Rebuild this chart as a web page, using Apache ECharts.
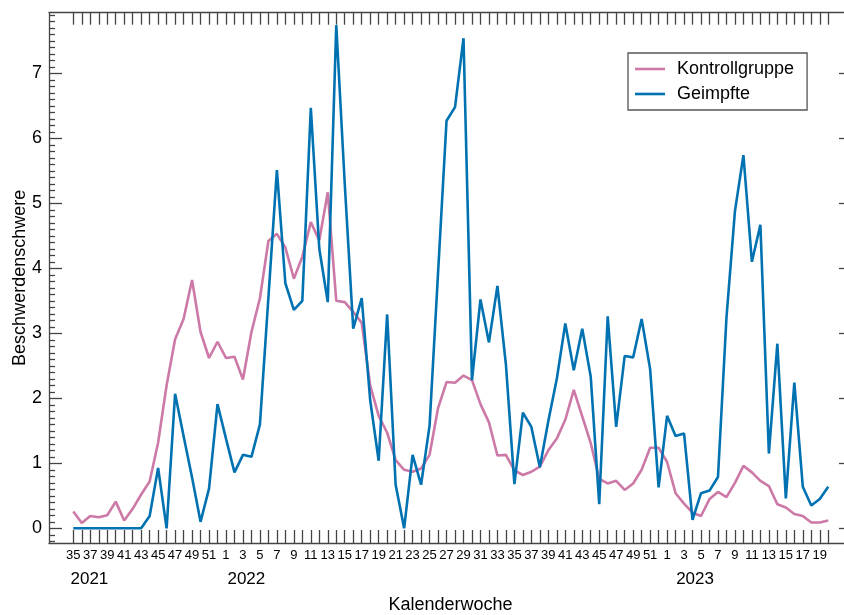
<!DOCTYPE html>
<html>
<head>
<meta charset="utf-8">
<script src="https://cdn.jsdelivr.net/npm/echarts@6/dist/echarts.min.js"></script>
<style>
  html, body { margin: 0; padding: 0; background: #fff; }
  #chart { width: 844px; height: 615px; }
</style>
</head>
<body>
<div id="chart"></div>
<script>
// Calendar weeks: 2021 W35 .. 2022 W52 .. 2023 W20
function range(a, b) { const r = []; for (let k = a; k <= b; k++) r.push(k); return r; }
const weeks2021 = range(35, 52);
const weeks2022 = range(1, 52);
const weeks2023 = range(1, 20);
const weeks = weeks2021.concat(weeks2022, weeks2023);

const years = ['2021', '2022', '2023'];
const yTickValues = [0, 1, 2, 3, 4, 5, 6, 7];

// Weekly complaint severity
const kontrollgruppe = [
  0.26, 0.08, 0.19, 0.17, 0.20, 0.41, 0.12, 0.30, 0.52, 0.72,
  1.32, 2.20, 2.91, 3.22, 3.82, 3.02, 2.62, 2.87, 2.62, 2.64,
  2.29, 3.02, 3.54, 4.42, 4.53, 4.32, 3.84, 4.18, 4.71, 4.43,
  5.17, 3.50, 3.48, 3.33, 3.16, 2.20, 1.73, 1.47, 1.05, 0.90,
  0.87, 0.92, 1.13, 1.85, 2.25, 2.24, 2.35, 2.28, 1.91, 1.63,
  1.12, 1.13, 0.89, 0.82, 0.87, 0.95, 1.20, 1.38, 1.67, 2.13,
  1.72, 1.31, 0.76, 0.69, 0.73, 0.59, 0.69, 0.90, 1.24, 1.24,
  1.02, 0.54, 0.38, 0.24, 0.19, 0.45, 0.56, 0.48, 0.70, 0.96,
  0.86, 0.73, 0.65, 0.37, 0.32, 0.22, 0.19, 0.09, 0.09, 0.12
];
const geimpfte = [
  0.00, 0.00, 0.00, 0.00, 0.00, 0.00, 0.00, 0.00, 0.00, 0.19,
  0.93, 0.00, 2.07, 1.42, 0.78, 0.10, 0.61, 1.91, 1.38, 0.86,
  1.13, 1.10, 1.60, 3.55, 5.51, 3.77, 3.36, 3.50, 6.47, 4.30,
  3.48, 7.74, 5.30, 3.07, 3.54, 1.97, 1.04, 3.29, 0.67, 0.00,
  1.13, 0.67, 1.58, 3.93, 6.27, 6.48, 7.54, 2.28, 3.52, 2.86,
  3.73, 2.52, 0.68, 1.78, 1.56, 0.94, 1.65, 2.30, 3.15, 2.43,
  3.07, 2.33, 0.37, 3.26, 1.56, 2.65, 2.63, 3.22, 2.45, 0.63,
  1.73, 1.42, 1.46, 0.13, 0.54, 0.58, 0.79, 3.24, 4.88, 5.74,
  4.10, 4.67, 1.15, 2.84, 0.46, 2.24, 0.64, 0.35, 0.45, 0.64
];

const allIdx = weeks.map((w, i) => i);
const labelIdx = allIdx.filter(i => i % 2 === 0);
const yearPos = [1.9, 20.4, 73.3];
const minorY = [];
for (let k = -2; k <= 79; k++) { if (k % 10 !== 0) minorY.push(+(k / 10).toFixed(1)); }

const X_MIN = -2.865, X_MAX = 91.8;
const Y_MIN = -0.226, Y_MAX = 7.932;
const axisColor = '#444';
const font = 'Liberation Sans, Arial, Helvetica, sans-serif';

const chart = echarts.init(document.getElementById('chart'), null, { renderer: 'canvas' });
chart.setOption({
  animation: false,
  backgroundColor: '#fff',
  textStyle: { fontFamily: font, color: '#000' },
  grid: { left: 49, top: 12.7, width: 803, height: 530.3, containLabel: false, outerBoundsMode: 'none' },
  legend: {
    orient: 'vertical',
    left: 628, top: 53,
    padding: [7, 13, 7, 7],
    icon: 'rect',
    itemWidth: 30, itemHeight: 2.6, itemGap: 7,
    borderColor: '#555', borderWidth: 1.3,
    backgroundColor: '#fff',
    textStyle: { fontSize: 18, lineHeight: 18, fontFamily: font, color: '#000', padding: [0, 0, 0, 7] },
    data: ['Kontrollgruppe', 'Geimpfte']
  },
  xAxis: [
    {
      type: 'value', min: X_MIN, max: X_MAX, position: 'bottom',
      axisLine: { show: true, onZero: false, lineStyle: { color: axisColor, width: 1.3 } },
      axisTick: { show: true, inside: true, length: 13, customValues: allIdx, lineStyle: { color: axisColor, width: 1.3 } },
      axisLabel: { customValues: labelIdx, formatter: v => String(weeks[Math.round(v)]), fontSize: 13, margin: 6, color: '#000', fontFamily: font },
      splitLine: { show: false },
      name: 'Kalenderwoche', nameLocation: 'middle', nameGap: 53, nameMoveOverlap: false,
      nameTextStyle: { fontSize: 18, color: '#000', fontFamily: font }
    },
    {
      type: 'value', min: X_MIN, max: X_MAX, position: 'bottom',
      axisLine: { show: false, onZero: false },
      axisTick: { show: false },
      axisLabel: { customValues: yearPos, formatter: v => years[yearPos.indexOf(v)], fontSize: 17, margin: 28, color: '#000', fontFamily: font },
      splitLine: { show: false }
    },
    {
      type: 'value', min: X_MIN, max: X_MAX, position: 'top',
      axisLine: { show: true, onZero: false, lineStyle: { color: axisColor, width: 1.3 } },
      axisTick: { show: true, inside: true, length: 12, customValues: allIdx, lineStyle: { color: axisColor, width: 1.3 } },
      axisLabel: { show: false },
      splitLine: { show: false }
    }
  ],
  yAxis: [
    {
      type: 'value', min: Y_MIN, max: Y_MAX, position: 'left',
      axisLine: { show: true, onZero: false, lineStyle: { color: axisColor, width: 1.3 } },
      axisTick: { show: true, inside: true, length: 13, customValues: yTickValues, lineStyle: { color: axisColor, width: 1.3 } },
      axisLabel: { customValues: yTickValues, fontSize: 18, margin: 7, color: '#000', fontFamily: font },
      splitLine: { show: false },
      name: 'Beschwerdenschwere', nameLocation: 'middle', nameGap: 20, nameMoveOverlap: false,
      nameTextStyle: { fontSize: 18, color: '#000', fontFamily: font }
    },
    {
      type: 'value', min: Y_MIN, max: Y_MAX, position: 'left',
      axisLine: { show: false, onZero: false },
      axisTick: { show: true, inside: true, length: 6, customValues: minorY, lineStyle: { color: axisColor, width: 1.3 } },
      axisLabel: { show: false },
      splitLine: { show: false }
    },
    {
      type: 'value', min: Y_MIN, max: Y_MAX, position: 'right',
      axisLine: { show: true, onZero: false, lineStyle: { color: axisColor, width: 1.3 } },
      axisTick: { show: true, inside: true, length: 13, customValues: yTickValues, lineStyle: { color: axisColor, width: 1.3 } },
      axisLabel: { show: false },
      splitLine: { show: false }
    }
  ],
  series: [
    {
      name: 'Kontrollgruppe', type: 'line', xAxisIndex: 0, yAxisIndex: 0,
      data: kontrollgruppe.map((v, i) => [i, v]),
      showSymbol: false, symbol: 'none',
      lineStyle: { color: '#CC79A7', width: 2.6 },
      itemStyle: { color: '#CC79A7' }
    },
    {
      name: 'Geimpfte', type: 'line', xAxisIndex: 0, yAxisIndex: 0,
      data: geimpfte.map((v, i) => [i, v]),
      showSymbol: false, symbol: 'none',
      lineStyle: { color: '#0072B2', width: 2.6 },
      itemStyle: { color: '#0072B2' }
    }
  ]
});
</script>
</body>
</html>
